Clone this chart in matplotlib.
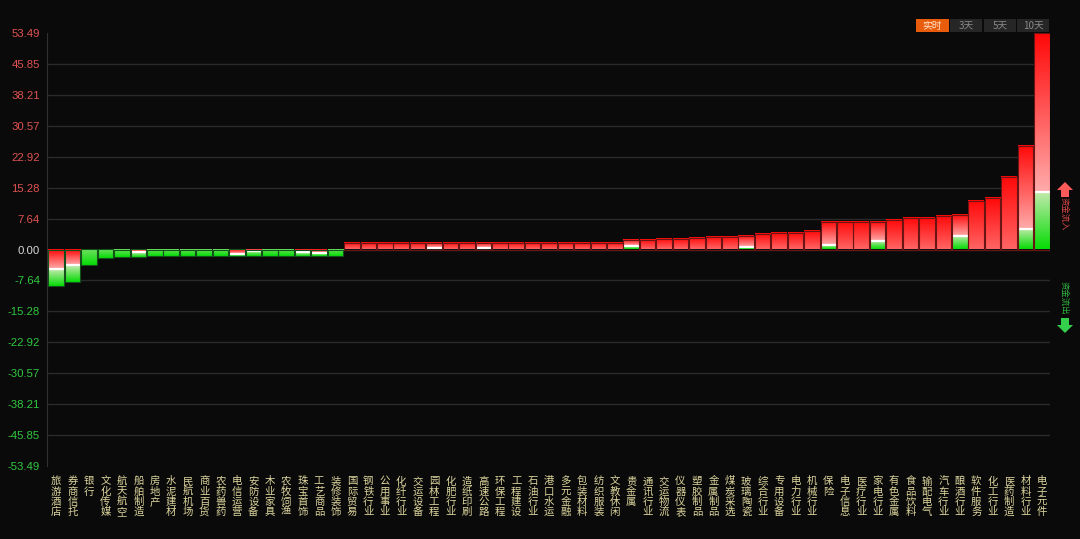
import numpy as np
import matplotlib
matplotlib.use('Agg')
import matplotlib.pyplot as plt
import matplotlib.transforms as mtransforms
from matplotlib.patches import Rectangle, Polygon
from matplotlib.colors import to_rgb

plt.rcParams['font.family'] = ['Noto Sans CJK SC', 'DejaVu Sans']

# sector net flow (bar total) and where the red part turns green
sectors = ['旅游酒店', '券商信托', '银行', '文化传媒', '航天航空', '船舶制造', '房地产',
           '水泥建材', '民航机场', '商业百货', '农药兽药', '电信运营', '安防设备', '木业家具',
           '农牧饲渔', '珠宝首饰', '工艺商品', '装修装饰', '国际贸易', '钢铁行业', '公用事业',
           '化纤行业', '交运设备', '园林工程', '化肥行业', '造纸印刷', '高速公路', '环保工程',
           '工程建设', '石油行业', '港口水运', '多元金融', '包装材料', '纺织服装', '文教休闲',
           '贵金属', '通讯行业', '交运物流', '仪器仪表', '塑胶制品', '金属制品', '煤炭采选',
           '玻璃陶瓷', '综合行业', '专用设备', '电力行业', '机械行业', '保险', '电子信息',
           '医疗行业', '家电行业', '有色金属', '食品饮料', '输配电气', '汽车行业', '酿酒行业',
           '软件服务', '化工行业', '医药制造', '材料行业', '电子元件']
values = [-8.9, -8.1, -3.8, -2.1, -1.9, -1.8, -1.6,
          -1.6, -1.6, -1.6, -1.6, -1.5, -1.6, -1.6,
          -1.6, -1.6, -1.6, -1.6, 1.7, 1.7, 1.7,
          1.7, 1.7, 1.7, 1.7, 1.7, 1.7, 1.7,
          1.7, 1.7, 1.7, 1.7, 1.7, 1.7, 1.7,
          2.4, 2.4, 2.7, 2.7, 2.9, 3.0, 3.2,
          3.4, 3.8, 4.0, 4.0, 4.5, 6.7, 6.7,
          6.7, 6.8, 7.3, 7.7, 7.7, 8.4, 8.5,
          12.0, 12.8, 17.8, 25.6, 53.49]
splits = [-4.9, -3.9, 0, 0, 0, -0.6, 0,
          0, 0, 0, 0, -1.1, -0.3, 0,
          0, -0.7, -0.8, 0, 0, 0, 0,
          0, 0, 0.4, 0, 0, 0.3, 0,
          0, 0, 0, 0, 0, 0, 0,
          0.9, 0, 0, 0, 0, 0, 0,
          0.6, 0, 0, 0, 0, 1.0, 0,
          0, 2.0, 0, 0, 0, 0, 3.3,
          0, 0, 0, 5.0, 14.1]
ymax = 53.49
ticks = np.round(np.linspace(-ymax, ymax, 15), 2)

W, H = 1080, 539
BG = '#0a0a0a'


def fx(px):
    return px / W


def fy(py):
    return 1 - py / H


def gradient(ax, x0, x1, y0, y1, c_top, c_bot):
    t = np.linspace(0, 1, 64)[:, None]
    img = np.array(to_rgb(c_top)) * (1 - t) + np.array(to_rgb(c_bot)) * t
    ax.imshow(img[:, None, :], extent=(x0, x1, y0, y1), aspect='auto',
              origin='upper', interpolation='bilinear', zorder=2)


fig = plt.figure(figsize=(W / 100, H / 100), dpi=100, facecolor=BG)
ax = fig.add_axes([fx(47), fy(466), fx(1050) - fx(47), fy(33) - fy(466)])
ax.set_facecolor(BG)

bw = 0.95
for i, (v, s) in enumerate(zip(values, splits)):
    lo, hi = min(0, v), max(0, v)
    x0, x1 = i - bw / 2, i + bw / 2
    has_red = hi - s > 0.05
    has_green = s - lo > 0.05
    if has_red:
        gradient(ax, x0, x1, s, hi, '#ff0808', '#ffaaaa' if has_green else '#ff6464')
    if has_green:
        gradient(ax, x0, x1, lo, s, '#c4eaae' if has_red else '#6ee060', '#06dc06')
    if has_red and has_green:
        ax.plot([x0, x1], [s, s], color='white', lw=1.6, zorder=3,
                solid_capstyle='butt')
    edge = '#6a1414' if v > 0 else '#14501a'
    ax.add_patch(Rectangle((x0, lo), bw, hi - lo, fill=False, edgecolor=edge,
                           lw=0.8, zorder=4))

ax.set_xlim(-0.56, len(values) - 0.51)
ax.set_ylim(-ymax, ymax)
for t in ticks[1:-1]:
    ax.axhline(t, color='#2a2a2a', lw=1, zorder=0)

ax.set_xticks([])
ax.set_yticks(ticks)
ax.set_yticklabels([f'{t:.2f}' for t in ticks], family='Liberation Sans', fontsize=8.2)
for t, lab in zip(ticks, ax.get_yticklabels()):
    lab.set_color('#e05252' if t > 0 else ('#30c840' if t < 0 else '#d8d8d8'))
ax.tick_params(axis='y', length=0, pad=5)
for side in ['top', 'right', 'bottom']:
    ax.spines[side].set_visible(False)
ax.spines['left'].set_color('#303030')

trans = mtransforms.blended_transform_factory(ax.transData, ax.transAxes)
for i, name in enumerate(sectors):
    ax.text(i, -0.024, '\n'.join(name), transform=trans, ha='center', va='top',
            fontsize=7.5, color='#dcd49c', linespacing=1.02)

# period buttons
buttons = [('实时', 916, 949, '#e85c0c', '#ffe6d0'), ('3天', 950, 982, '#262626', '#8a8a8a'),
           ('5天', 984, 1016, '#262626', '#8a8a8a'), ('10天', 1017, 1049, '#262626', '#8a8a8a')]
for label, l, r, bg, fg in buttons:
    fig.patches.append(Rectangle((fx(l), fy(32)), fx(r) - fx(l), fy(19) - fy(32),
                                 transform=fig.transFigure, facecolor=bg, edgecolor='none'))
    fig.text(fx((l + r) / 2), fy(25.5), label, ha='center', va='center',
             fontsize=7, color=fg)

# inflow / outflow markers
up = [(1057, 190), (1065, 182), (1073, 190), (1069, 190), (1069, 197), (1061, 197), (1061, 190)]
down = [(1057, 325), (1065, 333), (1073, 325), (1069, 325), (1069, 318), (1061, 318), (1061, 325)]
fig.patches.append(Polygon([(fx(a), fy(b)) for a, b in up], closed=True,
                           transform=fig.transFigure, facecolor='#ff5a5a', edgecolor='none'))
fig.patches.append(Polygon([(fx(a), fy(b)) for a, b in down], closed=True,
                           transform=fig.transFigure, facecolor='#34d04c', edgecolor='none'))
fig.text(fx(1064), fy(214), '资金流入', rotation=-90, ha='center', va='center',
         fontsize=6, color='#e04848')
fig.text(fx(1064), fy(298), '资金流出', rotation=-90, ha='center', va='center',
         fontsize=6, color='#30b840')

fig.savefig('out.png', dpi=100, facecolor=BG)
